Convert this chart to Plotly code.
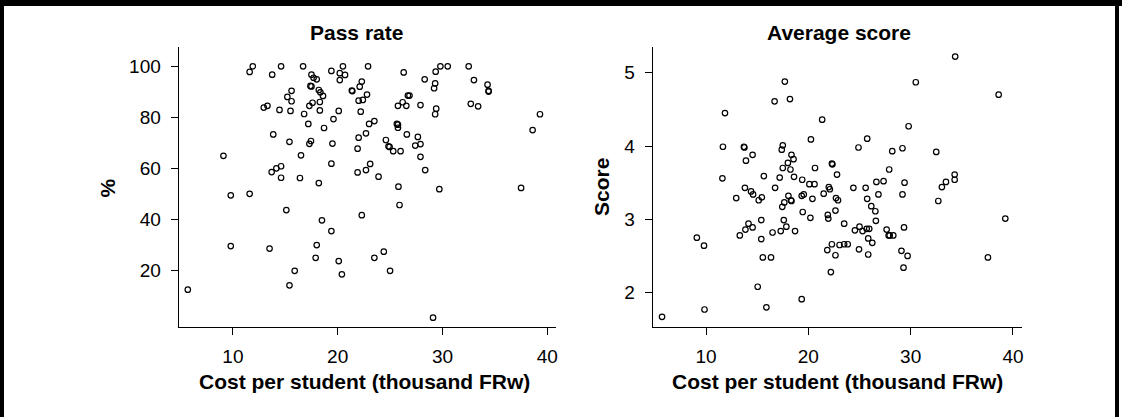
import plotly.graph_objects as go

# ---------------- data ----------------
pass_cost = [11.9, 11.6, 14.6, 13.75, 16.7, 17.5, 17.7, 18.0, 19.4, 20.2, 20.5, 20.2, 17.4, 17.5,
             18.2, 18.35, 18.6, 15.6, 15.2, 15.6, 17.6, 17.3, 18.3, 12.95, 13.3, 14.45, 15.5, 16.8,
             18.3, 20.1, 19.6, 17.2, 18.7, 13.85, 15.4, 17.45, 17.3, 19.5, 9.1, 16.5, 19.4, 14.6,
             14.15, 13.7, 14.6, 16.4, 18.2,
             20.7, 22.9, 26.3, 29.8, 30.5, 29.35, 32.5, 33.0, 28.3, 29.3, 29.2, 34.3, 34.4, 34.4,
             22.3, 22.1, 21.35, 21.4, 22.8, 22.0, 22.4, 22.2, 26.7, 26.85, 25.75, 26.2, 26.55, 27.9,
             29.4, 29.3, 32.7, 33.4, 23.0, 23.5, 25.65, 25.75, 25.75, 22.7, 22.0, 26.6, 27.65, 27.9,
             27.4, 24.6, 24.85, 24.95, 25.3, 26.0, 21.9, 27.9, 21.9, 22.7, 23.1, 23.9, 28.35, 25.8,
             29.7, 37.5, 39.3, 38.6,
             9.8, 11.6, 15.1, 18.5, 19.4, 9.8, 13.5, 18.0, 17.9, 20.1, 15.9, 20.4, 15.4, 5.7, 25.9,
             22.3, 23.5, 24.4, 25.0, 29.1]
pass_rate = [100, 97.8, 100, 96.7, 100, 96.7, 95.5, 94.9, 98.2, 97.3, 100, 94.6, 92.3, 92.1,
             90.7, 89.8, 88.4, 90.4, 88.0, 86.3, 85.7, 84.5, 86.0, 83.8, 84.5, 82.9, 82.5, 81.3,
             82.7, 82.5, 79.3, 77.4, 75.8, 73.3, 70.4, 70.7, 69.6, 69.7, 64.9, 65.1, 61.8, 60.8,
             60.0, 58.5, 56.3, 56.2, 54.2,
             96.6, 100, 97.6, 100, 100, 97.9, 100, 94.6, 94.9, 93.3, 91.4, 92.8, 90.4, 90.1,
             94.0, 92.0, 90.5, 90.3, 88.9, 86.5, 86.8, 82.2, 88.5, 88.5, 84.5, 85.9, 84.5, 84.8,
             83.4, 81.2, 85.3, 84.3, 77.4, 78.5, 77.4, 77.1, 75.9, 73.7, 72.0, 73.3, 72.3, 69.5,
             68.9, 71.1, 68.6, 68.4, 66.7, 66.7, 67.7, 64.5, 58.4, 59.3, 61.7, 56.7, 59.3, 52.8,
             51.8, 52.3, 81.2, 75.0,
             49.4, 50.0, 43.6, 39.6, 35.4, 29.5, 28.5, 29.9, 24.9, 23.6, 19.8, 18.4, 14.1, 12.4, 45.6,
             41.6, 24.9, 27.3, 19.8, 1.4]

score_cost = [17.7, 16.7, 18.2, 11.85, 21.35, 20.25, 11.65, 13.7, 13.75, 14.55, 13.9, 17.5, 17.4,
              18.35, 18.55, 18.0, 18.25, 17.5, 20.65, 22.3, 22.35, 22.8, 11.6, 15.65, 17.2, 18.6,
              19.4, 20.1, 20.6, 22.0, 22.1, 13.8, 14.4, 16.75,
              34.35, 30.5, 38.6, 29.8, 25.75, 24.9, 28.2, 29.2, 32.5, 27.9, 26.65, 27.35, 29.4,
              34.3, 34.3, 33.45, 33.05, 24.4, 25.6,
              14.6, 12.95, 15.45, 15.15, 18.05, 18.3, 18.35, 17.65, 17.45, 19.35, 19.55, 20.4, 21.5,
              22.7, 19.45, 20.2, 21.9, 21.95, 22.65, 15.4, 17.6, 17.85, 17.3, 18.7, 14.15, 13.85,
              14.55, 13.3, 16.5, 9.1, 9.8, 15.4, 15.55, 16.35, 22.3, 21.85, 22.65, 22.2, 15.05,
              19.35, 15.9, 9.85, 5.7,
              22.9, 25.75, 26.85, 29.2, 32.7, 26.15, 26.55, 26.6, 39.25, 23.5, 24.55, 25.0, 25.3,
              25.7, 25.95, 25.85, 26.25, 27.65, 27.85, 27.95, 28.3, 29.35, 23.05, 23.5, 23.85,
              24.95, 25.85, 29.1, 29.7, 29.3, 37.55]
score = [4.88, 4.61, 4.64, 4.45, 4.36, 4.09, 3.99, 3.99, 3.98, 3.88, 3.80, 4.01, 3.95,
         3.88, 3.82, 3.77, 3.68, 3.70, 3.70, 3.76, 3.75, 3.61, 3.56, 3.59, 3.57, 3.58,
         3.54, 3.48, 3.48, 3.44, 3.41, 3.43, 3.38, 3.43,
         5.22, 4.87, 4.70, 4.27, 4.10, 3.98, 3.93, 3.97, 3.92, 3.68, 3.51, 3.52, 3.50,
         3.61, 3.54, 3.51, 3.44, 3.43, 3.43,
         3.34, 3.29, 3.30, 3.26, 3.32, 3.26, 3.25, 3.23, 3.17, 3.32, 3.34, 3.28, 3.35,
         3.29, 3.10, 3.02, 3.06, 3.01, 3.12, 2.99, 2.99, 2.90, 2.84, 2.84, 2.94, 2.86,
         2.89, 2.78, 2.82, 2.75, 2.64, 2.73, 2.48, 2.48, 2.66, 2.58, 2.51, 2.28, 2.08,
         1.91, 1.80, 1.77, 1.67,
         3.26, 3.28, 3.34, 3.34, 3.25, 3.18, 3.11, 2.98, 3.01, 2.94, 2.85, 2.90, 2.84,
         2.87, 2.87, 2.74, 2.68, 2.86, 2.78, 2.78, 2.78, 2.89, 2.65, 2.66, 2.66,
         2.59, 2.52, 2.57, 2.50, 2.34, 2.48]

x_ticks = [10, 20, 30, 40]
pass_ticks = [20, 40, 60, 80, 100]
score_ticks = [2, 3, 4, 5]

panel_titles = ["Pass rate", "Average score"]
x_title = "Cost per student (thousand FRw)"
y_titles = ["%", "Score"]

# ---------------- layout constants ----------------
W, H = 1124, 417
FONT = "Liberation Sans, Arial, Helvetica, sans-serif"


def px(x):
    return x / W


def py(y):
    return (H - y) / H


marker = dict(symbol="circle-open", size=5.5, color="black", line=dict(width=1.2, color="black"))

fig = go.Figure()
fig.add_trace(go.Scatter(x=pass_cost, y=pass_rate, mode="markers", marker=marker,
                         xaxis="x", yaxis="y", showlegend=False, hoverinfo="skip"))
fig.add_trace(go.Scatter(x=score_cost, y=score, mode="markers", marker=marker,
                         xaxis="x2", yaxis="y2", showlegend=False, hoverinfo="skip"))

ax_common = dict(showgrid=False, zeroline=False, showline=True, linecolor="black", linewidth=1.2,
                 ticks="outside", ticklen=7, tickwidth=1.2, tickcolor="black",
                 tickfont=dict(family=FONT, size=19, color="black"), fixedrange=True)

y_dom = [py(326.7), py(47.3)]
fig.update_layout(
    width=W, height=H,
    margin=dict(l=0, r=0, t=0, b=0),
    paper_bgcolor="white", plot_bgcolor="white",
    xaxis=dict(domain=[px(179), px(557.3)], range=[4.83, 40.86], tickvals=x_ticks,
               anchor="y", ticklabelstandoff=5, **ax_common),
    yaxis=dict(domain=y_dom, range=[-2.12, 107.45], tickvals=pass_ticks,
               anchor="x", ticklabelstandoff=6, **ax_common),
    xaxis2=dict(domain=[px(654), px(1023.5)], range=[4.80, 40.85], tickvals=x_ticks,
                anchor="y2", ticklabelstandoff=5, **ax_common),
    yaxis2=dict(domain=y_dom, range=[1.535, 5.347], tickvals=score_ticks,
                anchor="x2", ticklabelstandoff=6, **ax_common),
)

ann = []
title_font = dict(family=FONT, size=21, color="black")
ann.append(dict(text="<b>%s</b>" % panel_titles[0], x=px(357.4), y=py(32.7)))
ann.append(dict(text="<b>%s</b>" % panel_titles[1], x=px(840.7), y=py(32.7)))
ann.append(dict(text="<b>%s</b>" % x_title, x=px(364.9), y=py(381.5)))
ann.append(dict(text="<b>%s</b>" % x_title, x=px(838.5), y=py(381.5)))
ann.append(dict(text="<b>%s</b>" % y_titles[0], x=px(106.8), y=py(188), textangle=-90))
ann.append(dict(text="<b>%s</b>" % y_titles[1], x=px(602), y=py(187), textangle=-90))
for a in ann:
    a.update(xref="paper", yref="paper", xanchor="center", yanchor="middle",
             showarrow=False, font=title_font)
fig.update_layout(annotations=ann)

# frame around the figure
frame = [
    dict(x0=0, x1=1, y0=py(6), y1=1),
    dict(x0=0, x1=px(4), y0=0, y1=1),
    dict(x0=px(1117), x1=px(1121), y0=0, y1=1),
]
fig.update_layout(shapes=[dict(type="rect", xref="paper", yref="paper", fillcolor="black",
                               line=dict(width=0), layer="above", **f) for f in frame])

fig.write_html("out.html")
